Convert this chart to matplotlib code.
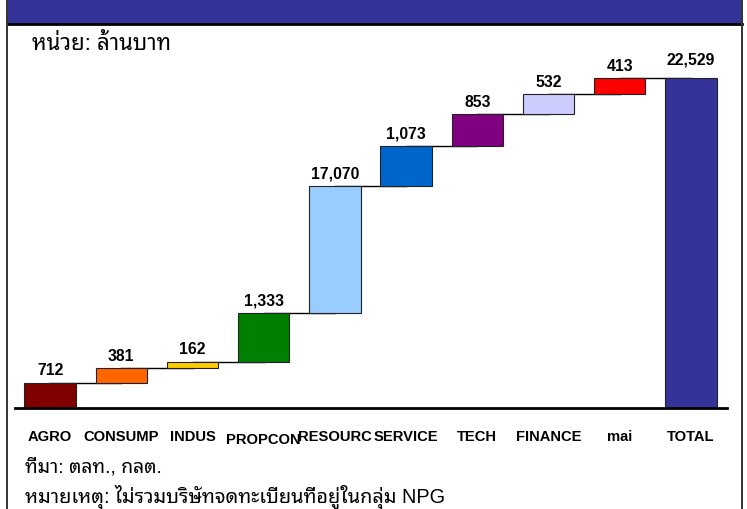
import matplotlib
matplotlib.use("Agg")
import matplotlib.pyplot as plt
import numpy as np
from matplotlib.patches import Rectangle
from matplotlib.lines import Line2D

# sectors and values (ล้านบาท)
sectors = ["AGRO", "CONSUMP", "INDUS", "PROPCON", "RESOURC", "SERVICE",
           "TECH", "FINANCE", "mai", "TOTAL"]
values = [712, 381, 162, 1333, 17070, 1073, 853, 532, 413, 22529]
# the original chart is not drawn to scale: step heights as they appear in it
drawn_steps = [25.3, 14.4, 6.6, 49.0, 127.0, 40.0, 31.7, 20.0, 15.7]
colors = ["#800000", "#FF6600", "#FFCC00", "#008000", "#99CCFF", "#0066CC",
          "#800080", "#CCCCFF", "#FF0000", "#333399"]

unit_text = "หน่วย: ล้านบาท"
source_text = "ที่มา: ตลท., กลต."
note_text = "หมายเหตุ: ไม่รวมบริษัทจดทะเบียนที่อยู่ในกลุ่ม NPG"

W, H = 747, 510
thai = ["Liberation Sans", "Noto Sans Thai Looped", "DejaVu Sans"]
plt.rcParams["font.family"] = ["Liberation Sans", "DejaVu Sans"]

fig = plt.figure(figsize=(W / 100, H / 100), dpi=100)

# axes placed in pixel terms: baseline at y=409, top at y=24
ax_l, ax_r, ax_b, ax_t = 14.5, 726.5, 409, 24
ax = fig.add_axes([ax_l / W, 1 - ax_b / H, (ax_r - ax_l) / W, (ax_b - ax_t) / H])
ax.set_xlim(-0.5, 9.5)
ax.set_ylim(0, ax_b - ax_t)

steps = np.array(drawn_steps)
tops = np.cumsum(steps)
bottoms = np.concatenate([[0], tops[:-1]])
heights = np.concatenate([steps, [tops[-1]]])
bottoms = np.concatenate([bottoms, [0]])
x = np.arange(len(sectors))

# connectors
for i in range(len(sectors) - 1):
    ax.plot([i, i + 1], [tops[i], tops[i]], color="black", lw=1.0, zorder=1)

ax.bar(x, heights, bottom=bottoms, width=0.72, color=colors,
       edgecolor="#222222", linewidth=0.8, zorder=2)

for i, v in enumerate(values):
    off = 11 if i == len(values) - 1 else 6
    ax.annotate(f"{v:,}", (x[i], bottoms[i] + heights[i]), xytext=(0, off),
                textcoords="offset points", ha="center", va="baseline",
                fontsize=11.3, fontweight="bold")

# category labels below the axis
for i, s in enumerate(sectors):
    dy = 34.5 if s == "PROPCON" else 32
    ax.text(x[i], -dy, s, ha="center", va="baseline", fontsize=10.6,
            fontweight="bold")

for side in ["left", "right", "top"]:
    ax.spines[side].set_visible(False)
ax.spines["bottom"].set_linewidth(2.0)
ax.set_xticks([])
ax.set_yticks([])
ax.patch.set_alpha(0)

# frame and banner
fig.patches.append(Rectangle((7 / W, 1 - 24.5 / H), 735 / W, 24.5 / H,
                             transform=fig.transFigure, facecolor="#333399",
                             edgecolor="none", zorder=0))
fig.lines.append(Line2D([7 / W, 742 / W], [1 - 24.5 / H, 1 - 24.5 / H],
                        transform=fig.transFigure, color="black", lw=2))
for xp in (7, 742):
    fig.lines.append(Line2D([xp / W, xp / W], [0, 1], transform=fig.transFigure,
                            color="#333333", lw=1.4))

fig.text(32 / W, 1 - 50 / H, unit_text, family=thai, fontsize=16,
         va="baseline", ha="left")
fig.text(25 / W, 1 - 473 / H, source_text, family=thai, fontsize=14,
         va="baseline", ha="left")
fig.text(25 / W, 1 - 502.5 / H, note_text, family=thai, fontsize=14.3,
         va="baseline", ha="left")

fig.savefig("out.png", dpi=100)
